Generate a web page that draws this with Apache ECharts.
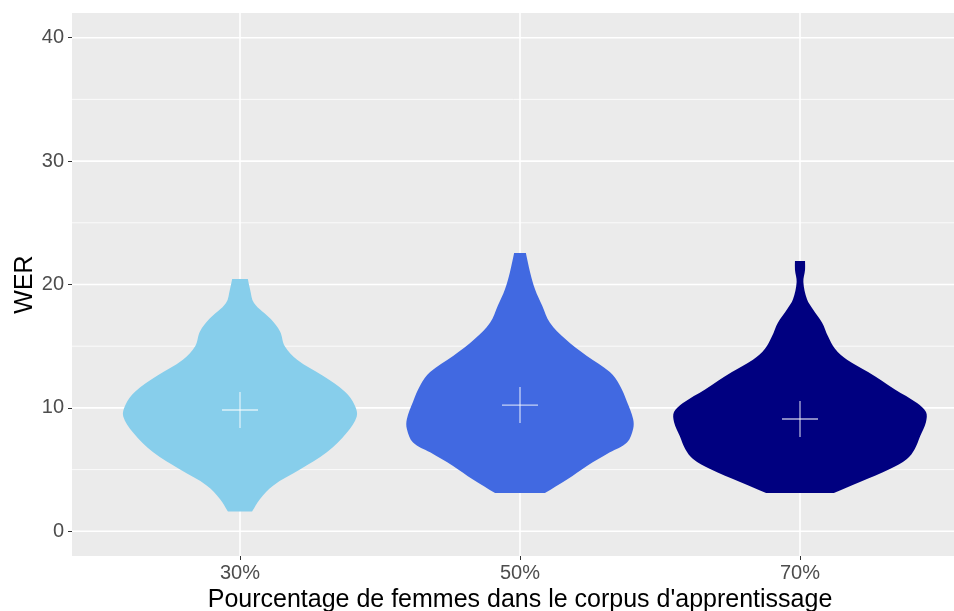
<!DOCTYPE html>
<html>
<head>
<meta charset="utf-8">
<script src="https://cdn.jsdelivr.net/npm/echarts@6/dist/echarts.min.js"></script>
<style>html,body{margin:0;padding:0;background:#fff}#c{width:954px;height:611px}</style>
</head>
<body>
<div id="c"></div>
<script>
// ---- data ----
const categories = ['30%', '50%', '70%'];
const yTicks = [0, 10, 20, 30, 40];
const yMinor = [5, 15, 25, 35];
const means = [9.83, 10.23, 9.1];
// violin profiles: WER value (top -> bottom) and half-width in category units
const v30Y = [20.45, 19.6, 18.5, 17.2, 16.2, 15.0, 13.9, 12.6, 11.3, 10.2, 9.3, 8.0, 6.4, 5.0, 3.7, 2.6, 1.6];
const v30W = [0.028, 0.036, 0.05, 0.11, 0.143, 0.16, 0.204, 0.296, 0.375, 0.41, 0.417, 0.382, 0.31, 0.214, 0.118, 0.071, 0.043];
const v50Y = [22.55, 21.0, 19.6, 18.3, 16.9, 15.6, 14.2, 12.9, 11.8, 10.5, 9.1, 8.3, 7.2, 6.4, 5.3, 4.2, 3.1];
const v50W = [0.021, 0.036, 0.054, 0.079, 0.107, 0.161, 0.239, 0.321, 0.357, 0.382, 0.404, 0.404, 0.382, 0.321, 0.239, 0.168, 0.089];
const v70Y = [21.9, 21.2, 20.2, 18.8, 18.0, 16.9, 15.8, 14.8, 13.9, 12.9, 11.5, 10.4, 9.66, 8.86, 7.7, 6.67, 5.86, 5.05, 3.99, 3.1];
const v70W = [0.018, 0.018, 0.012, 0.025, 0.046, 0.079, 0.1, 0.125, 0.168, 0.243, 0.339, 0.418, 0.45, 0.45, 0.429, 0.41, 0.382, 0.321, 0.214, 0.121];
const colors = ['#87CEEB', '#4169E1', '#000080'];

const profilesY = [v30Y, v50Y, v70Y];
const profilesW = [v30W, v50W, v70W];
const FONT = '"Liberation Sans", Arial, Helvetica, sans-serif';

const chart = echarts.init(document.getElementById('c'), null, {renderer: 'canvas'});

function hLines(width) {
  return function (params, api) {
    const cs = params.coordSys;
    const y = api.coord([1, api.value(0)])[1];
    return {type: 'line', shape: {x1: cs.x, y1: y, x2: cs.x + cs.width, y2: y},
      style: {stroke: '#FFFFFF', lineWidth: width}, silent: true};
  };
}
function vLines(width) {
  return function (params, api) {
    const cs = params.coordSys;
    const x = api.coord([api.value(0), 0])[0];
    return {type: 'line', shape: {x1: x, y1: cs.y, x2: x, y2: cs.y + cs.height},
      style: {stroke: '#FFFFFF', lineWidth: width}, silent: true};
  };
}

function violin(params, api) {
  const idx = api.value(0);
  const c = idx + 1;
  const Y = profilesY[idx], W = profilesW[idx];
  const n = Y.length;
  const pts = [];
  for (let k = 0; k < n; k++) {
    const p = api.coord([c + W[k], Y[k]]);
    pts.push(p);
    if (k === 0 || k === n - 1) pts.push(p.slice());
  }
  for (let k = n - 1; k >= 0; k--) {
    const p = api.coord([c - W[k], Y[k]]);
    pts.push(p);
    if (k === 0 || k === n - 1) pts.push(p.slice());
  }
  return {type: 'polygon', shape: {points: pts, smooth: 0.35},
    style: {fill: colors[idx], stroke: null}};
}

function cross(params, api) {
  const p = api.coord([api.value(0), api.value(1)]);
  const h = 18;
  const st = {stroke: 'rgba(255,255,255,0.7)', lineWidth: 1.3};
  return {type: 'group', children: [
    {type: 'line', shape: {x1: p[0] - h, y1: p[1], x2: p[0] + h, y2: p[1]}, style: st},
    {type: 'line', shape: {x1: p[0], y1: p[1] - h, x2: p[0], y2: p[1] + h}, style: st}
  ]};
}

chart.setOption({
  animation: false,
  backgroundColor: '#FFFFFF',
  grid: {left: 72, top: 13, width: 896, height: 543, show: true,
    backgroundColor: '#EBEBEB', borderWidth: 0,
    containLabel: false, outerBoundsMode: 'none'},
  xAxis: {
    type: 'value', min: 0.4, max: 3.6,
    axisLine: {show: false, onZero: false},
    splitLine: {show: false},
    axisTick: {show: true, customValues: [1, 2, 3], length: 4, lineStyle: {color: '#333333', width: 1}},
    axisLabel: {customValues: [1, 2, 3], formatter: v => categories[Math.round(v) - 1],
      fontSize: 20, color: '#4D4D4D', margin: 7, fontFamily: FONT},
    name: "Pourcentage de femmes dans le corpus d'apprentissage",
    nameLocation: 'middle', nameGap: 32, nameMoveOverlap: false,
    nameTextStyle: {fontSize: 25, color: '#000000', fontFamily: FONT}
  },
  yAxis: {
    type: 'value', min: -2, max: 42,
    axisLine: {show: false, onZero: false},
    splitLine: {show: false},
    axisTick: {show: true, customValues: yTicks, length: 4, lineStyle: {color: '#333333', width: 1}},
    axisLabel: {customValues: yTicks, fontSize: 20, color: '#4D4D4D', margin: 8, fontFamily: FONT},
    name: 'WER', nameLocation: 'middle', nameGap: 34, nameMoveOverlap: false,
    nameTextStyle: {fontSize: 25, color: '#000000', fontFamily: FONT}
  },
  series: [
    {type: 'custom', z: 1, silent: true, clip: true, data: yMinor, renderItem: hLines(0.8)},
    {type: 'custom', z: 1, silent: true, clip: true, data: yTicks, renderItem: hLines(1.6)},
    {type: 'custom', z: 1, silent: true, clip: true, data: [1, 2, 3], renderItem: vLines(1.6)},
    {type: 'custom', z: 2, silent: true, clip: true, data: [0, 1, 2], renderItem: violin},
    {type: 'custom', z: 3, silent: true, clip: true,
      data: means.map((m, i) => [i + 1, m]), renderItem: cross}
  ]
});
</script>
</body>
</html>
